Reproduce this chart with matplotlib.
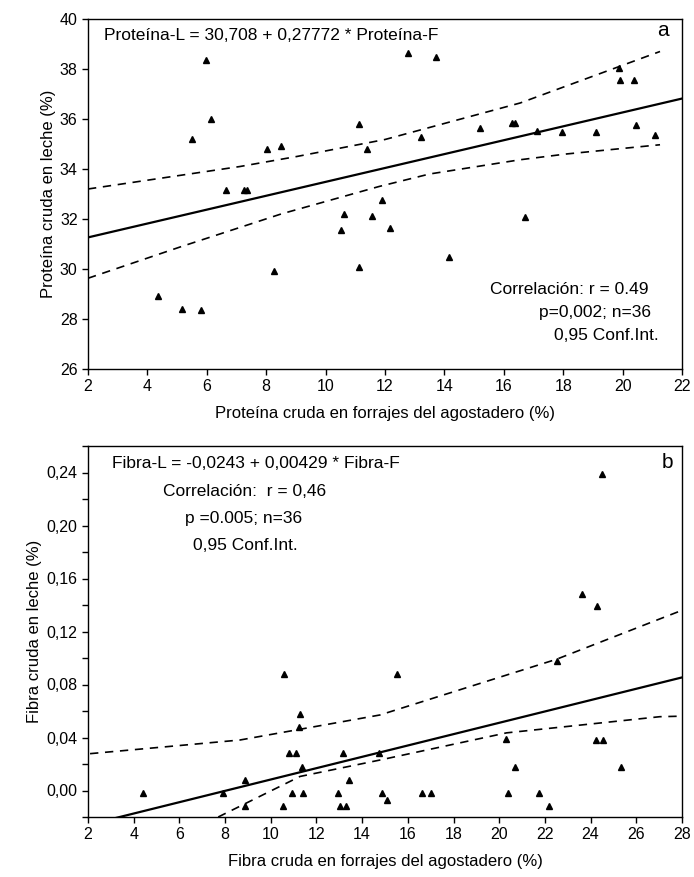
import matplotlib
matplotlib.use("Agg")
import matplotlib.pyplot as plt
import numpy as np

plt.rcParams['font.family'] = ['Liberation Sans', 'DejaVu Sans']

# ---------------- Panel a: protein ----------------
prot_forage = [5.97, 6.13, 5.50, 8.03, 8.50, 11.13, 11.40,
               12.76, 13.72, 19.89, 19.91, 20.39, 15.19, 16.29, 16.38, 17.13,
               17.96, 19.10, 20.44, 21.10, 13.22,
               6.64, 7.25, 7.35, 10.52, 10.61, 11.56, 11.90, 12.18, 11.13,
               8.27, 4.36, 5.18, 5.79, 16.71, 14.14]
prot_milk = [38.36, 35.99, 35.19, 34.80, 34.91, 35.80, 34.80,
             38.63, 38.47, 38.03, 37.56, 37.56, 35.65, 35.83, 35.83, 35.53,
             35.48, 35.48, 35.76, 35.35, 35.28,
             33.16, 33.16, 33.16, 31.57, 32.20, 32.13, 32.76, 31.63, 30.09,
             29.93, 28.91, 28.40, 28.35, 32.09, 30.47]
prot_fit = [30.708, 0.27772]          # intercept, slope
prot_ci_up_x = [2, 7.12, 9.03, 12.0, 16.55, 21.26]
prot_ci_up_y = [33.2, 34.1, 34.5, 35.18, 36.64, 38.7]
prot_ci_lo_x = [2, 5.1, 8.5, 11.8, 13.5, 16.55, 18.1, 21.26]
prot_ci_lo_y = [29.63, 30.88, 32.2, 33.3, 33.8, 34.37, 34.6, 34.97]
prot_xticks = list(range(2, 23, 2))
prot_yticks = list(range(26, 41, 2))

# ---------------- Panel b: fibre ----------------
fib_forage = [4.39, 7.89, 8.86, 8.86, 10.59, 10.53, 10.78, 11.10, 10.91, 11.29,
              11.23, 11.37, 11.42, 12.95, 13.03, 13.28, 13.16, 13.41, 14.75,
              14.88, 15.07, 15.51, 16.62, 17.00, 22.54, 20.31, 20.70, 20.38,
              21.72, 22.17, 24.22, 24.55, 25.31, 24.48, 23.63, 24.28]
fib_milk = [-0.002, -0.002, 0.008, -0.012, 0.088, -0.012, 0.028, 0.028, -0.002, 0.058,
            0.048, 0.018, -0.002, -0.002, -0.012, -0.012, 0.028, 0.008, 0.028,
            -0.002, -0.0075, 0.088, -0.002, -0.002, 0.098, 0.0387, 0.0174, -0.002,
            -0.002, -0.012, 0.038, 0.038, 0.018, 0.239, 0.148, 0.139]
fib_fit_drawn = [-0.0345, 0.00428]    # intercept, slope of line as drawn
fib_ci_up_x = [2.09, 8.65, 14.78, 22.5, 27.03, 28.0]
fib_ci_up_y = [0.0278, 0.0381, 0.057, 0.099, 0.1295, 0.136]
fib_ci_lo_x = [7.7, 11.28, 14.78, 20.32, 27.03, 28.0]
fib_ci_lo_y = [-0.02, 0.0106, 0.023, 0.0435, 0.0557, 0.0561]
fib_xticks = list(range(2, 29, 2))
fib_yticks = [0.00, 0.04, 0.08, 0.12, 0.16, 0.20, 0.24]
fib_yminor = [-0.02, 0.02, 0.06, 0.10, 0.14, 0.18, 0.22, 0.26]

W, H = 694, 877
fig = plt.figure(figsize=(W / 100, H / 100), dpi=100)

def ax_at(l, t, r, b):
    return fig.add_axes([l / W, 1 - b / H, (r - l) / W, (b - t) / H])

FS_TICK = 11.5
FS_LAB = 12
FS_TXT = 12.5
dash = (0, (5, 4))

# ---- Panel a ----
ax1 = ax_at(88, 19, 682, 369)
ax1.set_xlim(2, 22)
ax1.set_ylim(26, 40)
xx = np.array([2, 22])
ax1.plot(xx, prot_fit[0] + prot_fit[1] * xx, color='black', lw=1.6)
ax1.plot(prot_ci_up_x, prot_ci_up_y, color='black', lw=1.2, ls=dash)
ax1.plot(prot_ci_lo_x, prot_ci_lo_y, color='black', lw=1.2, ls=dash)
ax1.plot(prot_forage, prot_milk, ls='none', marker='^', ms=5, color='black')
ax1.set_xticks(prot_xticks)
ax1.set_yticks(prot_yticks)
ax1.set_xlabel('Proteína cruda en forrajes del agostadero (%)', fontsize=FS_LAB, labelpad=8)
ax1.set_ylabel('Proteína cruda en leche (%)', fontsize=FS_LAB, labelpad=3)
ax1.text(104 / W, 1 - 35 / H, 'Proteína-L = 30,708 + 0,27772 * Proteína-F',
         transform=fig.transFigure, fontsize=FS_TXT, va='center', ha='left')
ax1.text(663 / W, 1 - 31 / H, 'a', transform=fig.transFigure, fontsize=15,
         va='center', ha='center')
ax1.text(648 / W, 1 - 289 / H, 'Correlación: r = 0.49', transform=fig.transFigure,
         fontsize=FS_TXT, ha='right', va='center')
ax1.text(651 / W, 1 - 313 / H, 'p=0,002; n=36', transform=fig.transFigure,
         fontsize=FS_TXT, ha='right', va='center')
ax1.text(659 / W, 1 - 336 / H, '0,95 Conf.Int.', transform=fig.transFigure,
         fontsize=FS_TXT, ha='right', va='center')

# ---- Panel b ----
ax2 = ax_at(88, 446, 682, 817)
ax2.set_xlim(2, 28)
ax2.set_ylim(-0.02, 0.26)
xx = np.array([3.0, 28])
ax2.plot(xx, fib_fit_drawn[0] + fib_fit_drawn[1] * xx, color='black', lw=1.6)
ax2.plot(fib_ci_up_x, fib_ci_up_y, color='black', lw=1.2, ls=dash)
ax2.plot(fib_ci_lo_x, fib_ci_lo_y, color='black', lw=1.2, ls=dash)
ax2.plot(fib_forage, fib_milk, ls='none', marker='^', ms=5, color='black')
ax2.set_xticks(fib_xticks)
ax2.set_yticks(fib_yticks)
ax2.set_yticks(fib_yminor, minor=True)
ax2.set_yticklabels([f'{v:.2f}'.replace('.', ',') for v in fib_yticks])
ax2.set_xlabel('Fibra cruda en forrajes del agostadero (%)', fontsize=FS_LAB, labelpad=8)
ax2.set_ylabel('Fibra cruda en leche (%)', fontsize=FS_LAB, labelpad=3)
ax2.text(112 / W, 1 - 463 / H, 'Fibra-L = -0,0243 + 0,00429 * Fibra-F', transform=fig.transFigure,
         fontsize=FS_TXT, ha='left', va='center')
ax2.text(245 / W, 1 - 492 / H, 'Correlación:  r = 0,46', transform=fig.transFigure,
         fontsize=FS_TXT, ha='center', va='center')
ax2.text(244 / W, 1 - 518 / H, 'p =0.005; n=36', transform=fig.transFigure,
         fontsize=FS_TXT, ha='center', va='center')
ax2.text(245 / W, 1 - 546 / H, '0,95 Conf.Int.', transform=fig.transFigure,
         fontsize=FS_TXT, ha='center', va='center')
ax2.text(667 / W, 1 - 463 / H, 'b', transform=fig.transFigure, fontsize=15,
         ha='center', va='center')

for ax in (ax1, ax2):
    for s in ax.spines.values():
        s.set_linewidth(1.0)
    ax.tick_params(axis='both', which='both', direction='out', length=4, width=1,
                   labelsize=FS_TICK, top=False, right=False)

fig.savefig('out.png', dpi=100)
